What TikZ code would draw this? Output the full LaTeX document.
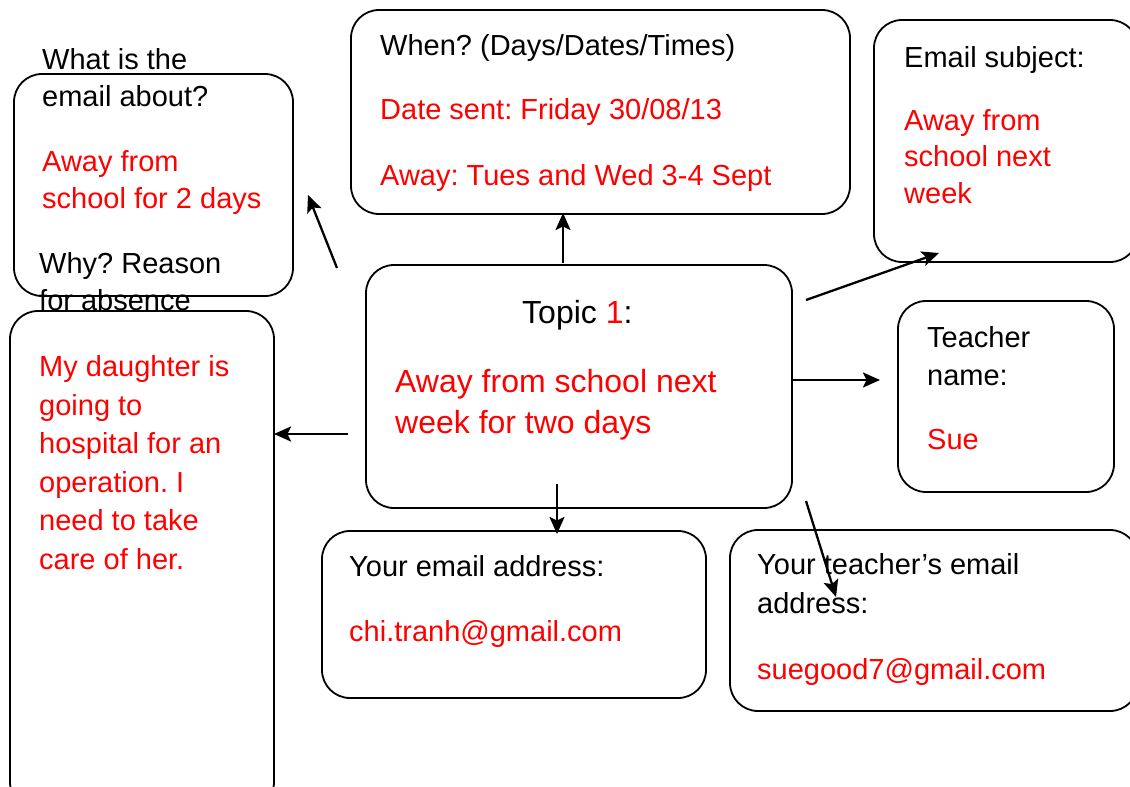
\documentclass[tikz,border=0pt]{standalone}
\usepackage{fontspec}
\setmainfont{Liberation Sans}
\usetikzlibrary{arrows.meta}
\definecolor{txtred}{RGB}{255,0,0}
\frenchspacing
\begin{document}
\begin{tikzpicture}[x=1pt,y=-1pt,
  box/.style={draw=black, fill=white, line width=1.8pt, rounded corners=28pt, inner sep=0pt},
  txt/.style={anchor=base west, inner sep=0pt, align=left, font=\fontsize{29}{37}\selectfont\frenchspacing},
  bigtxt/.style={anchor=base west, inner sep=0pt, align=left, font=\fontsize{32}{41}\selectfont\frenchspacing},
  redtxt/.style={text=txtred},
  arr/.style={line width=2.3pt, -{Stealth[length=17pt,width=15pt,inset=3.5pt]}}]
\useasboundingbox (0,0) rectangle (1130,787);
\begin{scope}
\clip (0,0) rectangle (1130,787);
% boxes (multi-line texts are placed by the baseline of their last line)
\node[box, minimum width=279pt, minimum height=222pt] (about) at (153.5,185) {};
\node[txt] (aboutq) at (42,106) {What is the\\email about?};
\node[txt, redtxt] (abouta) at (42,208) {Away from\\school for 2 days};
\node[txt] (whyq) at (39,310) {Why? Reason\\for absence};
\node[box, minimum width=264pt, minimum height=499pt] (why) at (142,560.5) {};
\node[txt, redtxt, font=\fontsize{29}{38.5}\selectfont] (whya) at (39,569) {My daughter is\\going to\\hospital for an\\operation. I\\need to take\\care of her.};

\node[box, minimum width=499pt, minimum height=204pt] (when) at (600.5,112) {};
\node[txt] (whenq) at (380,55) {When? (Days/Dates/Times)};
\node[txt, redtxt] (whena) at (380,119) {Date sent: Friday 30/08/13};
\node[txt, redtxt] (whenb) at (380,185) {Away: Tues and Wed 3-4 Sept};

\node[box, minimum width=264pt, minimum height=242pt] (subj) at (1006,141) {};
\node[txt] (subjq) at (904,67) {Email subject:};
\node[txt, redtxt, font=\fontsize{29}{36.5}\selectfont] (subja) at (904,203) {Away from\\school next\\week};

\node[box, minimum width=426pt, minimum height=243pt] (topic) at (579,386.5) {};
\node[bigtxt] (topicq) at (522,323) {Topic {\color{txtred}1}:};
\node[bigtxt, redtxt] (topica) at (395,433) {Away from school next\\week for two days};

\node[box, minimum width=216pt, minimum height=191pt] (tname) at (1006,396.5) {};
\node[txt, font=\fontsize{29}{38}\selectfont] (tnameq) at (927,385) {Teacher\\name:};
\node[txt, redtxt] (tnamea) at (927,449) {Sue};

\node[box, minimum width=384pt, minimum height=167pt] (your) at (514,614.5) {};
\node[txt] (yourq) at (349,576) {Your email address:};
\node[txt, redtxt] (youra) at (349,641) {chi.tranh@gmail.com};

\node[box, minimum width=408pt, minimum height=181pt] (temail) at (934,620.5) {};
\node[txt, font=\fontsize{29}{39}\selectfont] (temailq) at (757,613) {Your teacher’s email\\address:};
\node[txt, redtxt] (temaila) at (757,679) {suegood7@gmail.com};

% arrow ends
\coordinate (s1) at (337,268); \coordinate (e1) at (308,195);
\coordinate (s2) at (563,263); \coordinate (e2) at (563,213);
\coordinate (s3) at (806,300); \coordinate (e3) at (939,253);
\coordinate (s4) at (792,380); \coordinate (e4) at (880,380);
\coordinate (s5) at (348,434); \coordinate (e5) at (274,434);
\coordinate (s6) at (557,484); \coordinate (e6) at (557,534);
\coordinate (s7) at (806,501); \coordinate (e7) at (836,597);
\foreach \i in {1,...,7} { \draw[arr] (s\i) -- (e\i); }
\end{scope}
\end{tikzpicture}
\end{document}
